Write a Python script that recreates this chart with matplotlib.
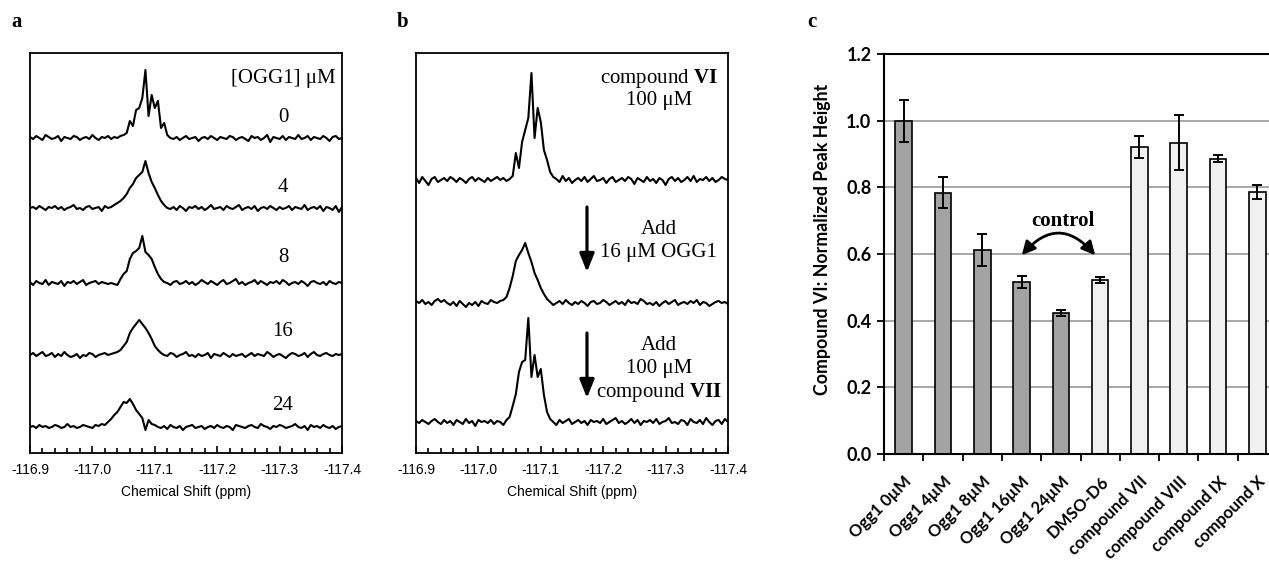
import numpy as np
import matplotlib.pyplot as plt
from matplotlib.patches import FancyArrowPatch

plt.rcParams['font.family'] = ['Liberation Sans', 'DejaVu Sans']
plt.rcParams['mathtext.fontset'] = 'custom'
plt.rcParams['mathtext.rm'] = 'Liberation Serif'
plt.rcParams['mathtext.bf'] = 'Liberation Serif:bold'
SERIF = ['Liberation Serif', 'DejaVu Serif']
CAL = ['Lato', 'DejaVu Sans']

## the data
# panel a: 19F spectra of compound VI with OGG1 (height above baseline, px)
ogg1_conc = ['0', '4', '8', '16', '24']
spec_0 = [1,-1,2,0,-2,3,1,-1,0,2,-3,1,0,-1,2,1,-2,0,1,-1,3,0,-2,1,0,2,-1,1,0,2,3,
          5,17,12,28,30,40,68,22,43,30,37,10,15,3,
          0,-1,1,-2,0,2,-1,0,1,-3,0,1,-1,2,0,-2,1,0,-1,2,1,-2,0,1,-1,-3,2,0,1,-2,
          0,3,-4,1,0,-1,2,-2,1,0,-1,3,-1,0,2,-2,1,0,-1,2,0,-3,1,2,-1,0]
spec_4 = [0,1,-1,2,0,-2,1,0,2,-1,1,-2,0,1,3,-1,0,-2,1,2,-1,0,1,-3,2,0,1,3,
          5,7,10,14,20,24,30,33,36,47,35,26,20,13,7,3,
          0,-1,1,-2,2,0,-3,1,0,2,-1,1,-2,0,3,-1,0,1,-2,2,0,-1,1,3,-2,0,1,-1,2,-3,
          0,1,-1,2,0,-2,1,-1,0,2,-2,1,0,-1,3,-2,0,1,-1,2,-3,1,0,-2,2,-4,1]
spec_8 = [1,-2,2,0,-1,3,-2,1,0,-1,2,-3,1,0,2,-1,1,3,-2,0,1,2,-1,1,0,-1,0,-1,
          -2,4,9,12,24,30,32,35,47,31,28,24,16,9,4,1,
          0,-2,1,2,-1,0,2,-1,1,-2,0,3,1,-1,2,0,-2,1,3,-1,0,2,4,-1,1,-2,0,1,3,-1,
          2,0,-2,1,0,2,-1,3,1,-2,0,1,-1,2,0,-3,1,2,0,-1,1,-2,2,0,-1,1,0]
spec_16 = [0,2,-1,1,3,-1,0,2,-2,1,-1,3,0,-2,-1,1,-3,0,-1,2,1,-2,0,1,2,0,1,2,
           3,5,9,13,22,27,31,35,31,27,22,16,9,5,2,
           0,-1,2,1,-2,0,1,3,-1,0,-2,1,-1,0,2,-3,1,0,-1,2,0,-2,1,-1,0,1,-2,0,2,-1,
           1,0,-1,3,1,-2,0,1,-1,-3,0,2,1,-1,0,2,-2,1,3,0,-1,1,2,0,-1,1,0,1]
spec_24 = [0,1,-1,2,0,1,-1,0,2,1,-1,0,3,0,1,-1,0,2,1,0,-1,2,1,3,2,
           5,8,12,15,20,25,24,28,23,17,13,9,-3,7,3,2,
           0,-1,1,-2,2,0,-1,1,-3,0,1,2,-1,0,1,-2,0,1,-1,2,0,-1,1,0,-3,2,1,0,-1,1,
           2,0,-1,3,1,0,-2,1,0,2,1,-1,0,1,3,0,-1,1,-3,2,0,1,-1,2,0,-1,1,-2,0,1]
spectra_a = [spec_0, spec_4, spec_8, spec_16, spec_24]

# panel b: compound VI alone, + OGG1, + compound VII
spec_vi = [2,-3,3,-1,-5,1,3,-2,0,2,-1,3,1,-2,2,0,-3,1,3,-1,2,0,-2,2,-1,1,3,0,2,-1,1,
           4,27,12,38,50,62,107,42,72,58,30,20,8,
           3,1,-2,4,-1,2,-3,0,2,-1,3,-2,1,4,-1,0,2,-3,1,3,-2,0,2,-1,3,1,-4,2,0,-2,
           3,-1,1,-3,2,0,-5,1,3,-1,2,-2,0,3,-1,4,-2,1,0,3,-1,2,-2,0,3,1,0]
spec_ogg1 = [2,0,3,-1,1,-2,2,4,1,3,0,-2,1,-3,2,-1,-4,0,-2,1,-3,2,0,-1,3,1,0,2,3,
             6,15,27,42,48,53,60,50,41,30,23,15,9,4,
             1,-2,0,2,-1,3,0,-2,1,-1,2,0,-3,1,2,-1,0,3,1,-2,0,2,-1,1,-2,3,0,1,-1,4,
             2,-1,0,-2,1,-3,0,2,-1,1,3,-2,0,1,-1,2,0,3,-2,1,0,-3,-1,1,2,0,1,-1]
spec_vii = [1,-1,2,0,-2,1,3,0,-2,2,-1,1,-3,2,0,-2,3,-1,1,-4,2,0,1,-1,2,-2,1,0,-3,2,5,
            16,28,50,60,62,104,45,67,45,53,27,10,3,
            0,-3,2,-1,1,3,-2,0,2,-1,1,-3,2,0,1,-1,3,-2,0,2,4,-1,1,-2,0,3,-1,2,-3,1,
            0,2,-1,3,-2,0,1,4,-1,0,-2,2,1,-3,3,0,-1,2,-2,4,0,-3,1,2,-2,3,0]
spectra_b = [spec_vi, spec_ogg1, spec_vii]

# panel c
bar_labels = ['Ogg1 0μM', 'Ogg1 4μM', 'Ogg1 8μM', 'Ogg1 16μM', 'Ogg1 24μM',
              'DMSO-D6', 'compound VII', 'compound VIII', 'compound IX', 'compound X']
bar_values = [1.00, 0.784, 0.612, 0.515, 0.422, 0.522, 0.922, 0.934, 0.886, 0.786]
bar_errors = [0.063, 0.046, 0.047, 0.018, 0.009, 0.008, 0.033, 0.083, 0.010, 0.021]
bar_colors = ['#a3a3a3'] * 5 + ['#f0f0f0'] * 5

## layout
W, H = 1269, 561
fig = plt.figure(figsize=(W / 100, H / 100), dpi=100)

def px_axes(x0, y0, x1, y1):
    return fig.add_axes([x0 / W, 1 - y1 / H, (x1 - x0) / W, (y1 - y0) / H])

def spec_axes(ax):
    ax.set_xlim(-116.9, -117.4)
    ax.set_ylim(0, 400)
    ax.set_yticks([])
    ax.set_xticks(np.arange(-116.9, -117.45, -0.1))
    ax.set_xticks(np.arange(-116.9, -117.41, -0.02), minor=True)
    ax.set_xticklabels(['-116.9', '-117.0', '-117.1', '-117.2', '-117.3', '-117.4'])
    ax.tick_params(axis='x', which='major', direction='in', length=5, width=1.2,
                   labelsize=10, pad=7)
    ax.tick_params(axis='x', which='minor', direction='in', length=3.5, width=1.2)
    for s in ax.spines.values():
        s.set_linewidth(1.3)
    ax.set_xlabel('Chemical Shift (ppm)', fontsize=10, labelpad=6)

def stext(ax, x, y, s):
    ax.text(x, y, s, family=SERIF, fontsize=15, ha='center', va='center')

# panel a
axa = px_axes(30, 53, 342, 453)
base_a = [315, 245, 170, 98, 26]
for s, b0 in zip(spectra_a, base_a):
    x = np.linspace(-116.9, -117.4, len(s))
    axa.plot(x, np.array(s) + b0, color='k', lw=1.5)
spec_axes(axa)
stext(axa, -117.3055, 375, '[OGG1] μM')
for lab, yy in zip(ogg1_conc, [335, 266, 195, 121, 48]):
    stext(axa, -117.3055, yy, lab)

# panel b
axb = px_axes(416, 53, 728, 453)
base_b = [273, 150, 31]
for s, b0 in zip(spectra_b, base_b):
    x = np.linspace(-116.9, -117.4, len(s))
    axb.plot(x, np.array(s) + b0, color='k', lw=1.5)
spec_axes(axb)
tx = -117.289
stext(axb, tx, 375, 'compound $\\mathbf{VI}$')
stext(axb, tx, 353, '100 μM')
stext(axb, tx, 223, 'Add')
stext(axb, tx, 200, '16 μM OGG1')
stext(axb, tx, 108, 'Add')
stext(axb, tx, 85, '100 μM')
stext(axb, tx, 61, 'compound $\\mathbf{VII}$')
for y0, y1 in [(246, 181), (120, 55)]:
    axb.annotate('', xy=(-117.174, y1), xytext=(-117.174, y0),
                 arrowprops=dict(arrowstyle='-|>,head_width=0.2,head_length=0.5',
                                 lw=2.3, color='k', mutation_scale=22,
                                 shrinkA=0, shrinkB=0))

# panel c
axc = px_axes(884, 54, 884 + 10 * 39.3, 454)
ind = np.arange(len(bar_values)) + 0.5
axc.yaxis.grid(True, color='#9a9a9a', lw=1.2, zorder=0)
axc.set_axisbelow(True)
axc.bar(ind, bar_values, 0.42, color=bar_colors, edgecolor='k', lw=1.2, zorder=2)
axc.errorbar(ind, bar_values, yerr=bar_errors, fmt='none', ecolor='k',
             elinewidth=1.4, capsize=3.5, capthick=1.4, zorder=3)
axc.set_xlim(0, 10)
axc.set_ylim(0, 1.2)
axc.set_yticks(np.arange(0, 1.21, 0.2))
axc.set_yticklabels(['%.1f' % v for v in np.arange(0, 1.21, 0.2)],
                    family=CAL, fontweight='bold', fontsize=13)
axc.set_xticks(np.arange(0, 11))
axc.set_xticklabels([])
axc.set_xticks(ind, minor=True)
axc.set_xticklabels(bar_labels, minor=True, rotation=45, ha='right', va='top',
                    rotation_mode='anchor', family=CAL, fontweight='bold', fontsize=12)
axc.tick_params(axis='x', which='major', direction='out', length=5, width=1.3)
axc.tick_params(axis='x', which='minor', length=0, pad=14)
axc.tick_params(axis='y', direction='out', length=5, width=1.3, pad=4)
axc.spines['right'].set_visible(False)
for k in ['left', 'bottom', 'top']:
    axc.spines[k].set_linewidth(1.5)
axc.set_ylabel('Compound VI: Normalized Peak Height', family=CAL, fontweight='bold',
               fontsize=12.8)
axc.yaxis.set_label_coords(-0.135, 0.5375)

arc = FancyArrowPatch((3.46, 0.59), (5.42, 0.59), arrowstyle='<|-|>',
                      connectionstyle='arc3,rad=-0.6', mutation_scale=20,
                      lw=2, color='k', zorder=4)
axc.add_patch(arc)
axc.text(4.55, 0.70, 'control', family=SERIF, fontweight='bold', fontsize=15,
         ha='center', va='center')

# panel letters
for lab, xx in [('a', 17), ('b', 403), ('c', 812)]:
    fig.text(xx / W, 1 - 22 / H, lab, family=SERIF, fontweight='bold', fontsize=15,
             ha='center', va='center')

fig.savefig('out.png', dpi=100)
